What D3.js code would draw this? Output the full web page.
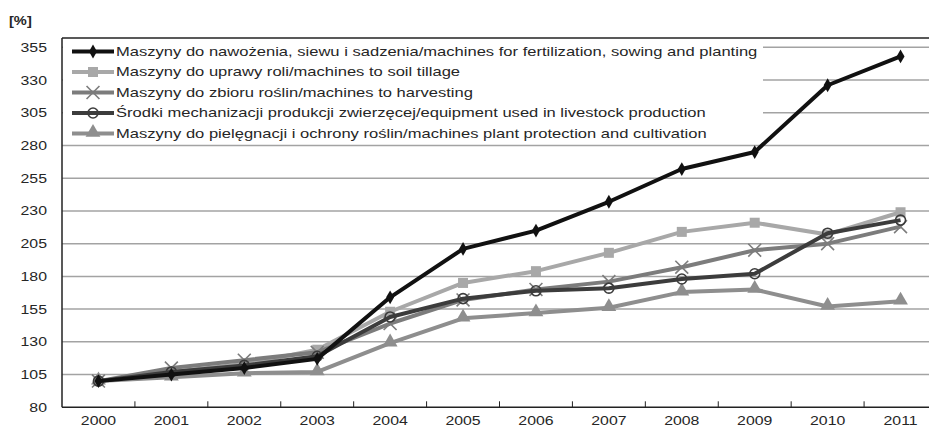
<!DOCTYPE html>
<html><head><meta charset="utf-8">
<script src="https://cdn.jsdelivr.net/npm/d3@7"></script>
<style>body{margin:0;background:#fff}svg{display:block}text{font-family:"Liberation Sans",Arial,sans-serif;fill:#262626}</style>
</head><body>
<svg id="c" width="929" height="428"></svg>
<script>
const years = ["2000","2001","2002","2003","2004","2005","2006","2007","2008","2009","2010","2011"];
const seriesNames = [
  "Maszyny do nawożenia, siewu i sadzenia/machines for fertilization, sowing and planting",
  "Maszyny do uprawy roli/machines to soil tillage",
  "Maszyny do zbioru roślin/machines to harvesting",
  "Środki mechanizacji produkcji zwierzęcej/equipment used in livestock production",
  "Maszyny do pielęgnacji i ochrony roślin/machines plant protection and cultivation"
];
const fertilization = [100,105,110,117,164,201,215,237,262,275,326,348];
const tillage       = [100,107,113,124,153,175,184,198,214,221,212,229];
const harvesting    = [100,110,116,122,144,162,170,176,187,200,205,218];
const livestock     = [100,107,112,119,149,163,169,171,178,182,213,223];
const protection    = [100,103,106,107,129,148,152,156,168,170,157,161];
const yTicks = [80,105,130,155,180,205,230,255,280,305,330,355];
const yUnit = "[%]";

const series = [
  {name: seriesNames[0], values: fertilization, color:"#111111", marker:"diamond"},
  {name: seriesNames[1], values: tillage,       color:"#a8a8a8", marker:"square"},
  {name: seriesNames[2], values: harvesting,    color:"#7c7c7c", marker:"x"},
  {name: seriesNames[3], values: livestock,     color:"#3c3c3c", marker:"circle"},
  {name: seriesNames[4], values: protection,    color:"#8e8e8e", marker:"triangle"}
];
const drawOrder = [1,2,4,3,0];

const svg = d3.select("#c");
const SX = 1.22;     // horizontal stretch of axis text
const SX_LEG = 1.275; // horizontal stretch of legend text
const FS = 13;

const x = d3.scaleBand().domain(years).range([62, 937]).padding(0);
const y = d3.scaleLinear().domain([80, 355]).range([407.3, 47.3]);

function stretchedText(g, tx, ty, str, anchor, size, weight, sx){
  const t = g.append("text")
    .attr("transform", `translate(${tx},${ty}) scale(${sx||SX},1)`)
    .attr("text-anchor", anchor).attr("dominant-baseline","central")
    .style("font-size", (size||FS)+"px").text(str);
  if (weight) t.style("font-weight", weight);
  return t;
}

// gridlines
svg.append("g").selectAll("line").data(yTicks.filter(d=>d>80)).join("line")
  .attr("x1", 62).attr("x2", 929).attr("y1", d=>y(d)).attr("y2", d=>y(d))
  .attr("stroke","#a3a3a3").attr("stroke-width",1.5);

// axes lines
svg.append("line").attr("x1",62).attr("x2",929).attr("y1",y(80)).attr("y2",y(80)).attr("stroke","#222").attr("stroke-width",1.5);
svg.append("line").attr("x1",62).attr("x2",62).attr("y1",38).attr("y2",y(80)).attr("stroke","#222").attr("stroke-width",1.5);
// x ticks (band boundaries, inward)
svg.append("g").selectAll("line").data(years.slice(1)).join("line")
  .attr("x1", d=>x(d)).attr("x2", d=>x(d)).attr("y1", y(80)).attr("y2", y(80)-6)
  .attr("stroke","#222").attr("stroke-width",1);

// y labels
const yl = svg.append("g");
yTicks.forEach(t => stretchedText(yl, 47, y(t), String(t), "end"));
// x labels
const xl = svg.append("g");
years.forEach(yr => stretchedText(xl, x(yr)+x.bandwidth()/2, 421, yr, "middle"));
// unit
stretchedText(svg, 9, 21, yUnit, "start", 12, "bold");

function drawMarker(g, type, cx, cy, color){
  if (type==="diamond") {
    g.append("path").attr("d", d3.symbol(d3.symbolDiamond, 55)()).attr("transform",`translate(${cx},${cy})`).attr("fill",color);
  } else if (type==="square") {
    g.append("path").attr("d", d3.symbol(d3.symbolSquare, 100)()).attr("transform",`translate(${cx},${cy})`).attr("fill",color);
  } else if (type==="x") {
    g.append("path").attr("d", d3.symbol(d3.symbolX, 110)()).attr("transform",`translate(${cx},${cy})`).attr("fill","none").attr("stroke",color).attr("stroke-width",1.6);
  } else if (type==="circle") {
    g.append("circle").attr("cx",cx).attr("cy",cy).attr("r",5).attr("fill","none").attr("stroke",color).attr("stroke-width",1.6);
  } else if (type==="triangle") {
    g.append("path").attr("d", d3.symbol(d3.symbolTriangle, 95)()).attr("transform",`translate(${cx},${cy-1})`).attr("fill",color);
  }
}

const line = d3.line().x((d,i)=>x(years[i])+x.bandwidth()/2).y(d=>y(d));
const lg = svg.append("g");
drawOrder.forEach(si => {
  const s = series[si];
  lg.append("path").attr("d", line(s.values)).attr("fill","none").attr("stroke",s.color).attr("stroke-width",4).attr("stroke-linejoin","round");
  s.values.forEach((v,i)=> drawMarker(lg, s.marker, x(years[i])+x.bandwidth()/2, y(v), s.color));
});

// legend
const leg = svg.append("g");
leg.append("rect").attr("x",63).attr("y",39).attr("width",700).attr("height",103).attr("fill","#fff");
svg.append("line").attr("x1",62).attr("x2",929).attr("y1",38).attr("y2",38).attr("stroke","#222").attr("stroke-width",1.5);
const rowY = [51.5, 72, 92.5, 113, 133.5];
series.forEach((s,i) => {
  leg.append("line").attr("x1",72).attr("x2",114).attr("y1",rowY[i]).attr("y2",rowY[i]).attr("stroke",s.color).attr("stroke-width",4);
  drawMarker(leg, s.marker, 93, rowY[i], s.color);
  stretchedText(leg, 116, rowY[i], s.name, "start", FS, null, SX_LEG);
});
</script>
</body></html>
